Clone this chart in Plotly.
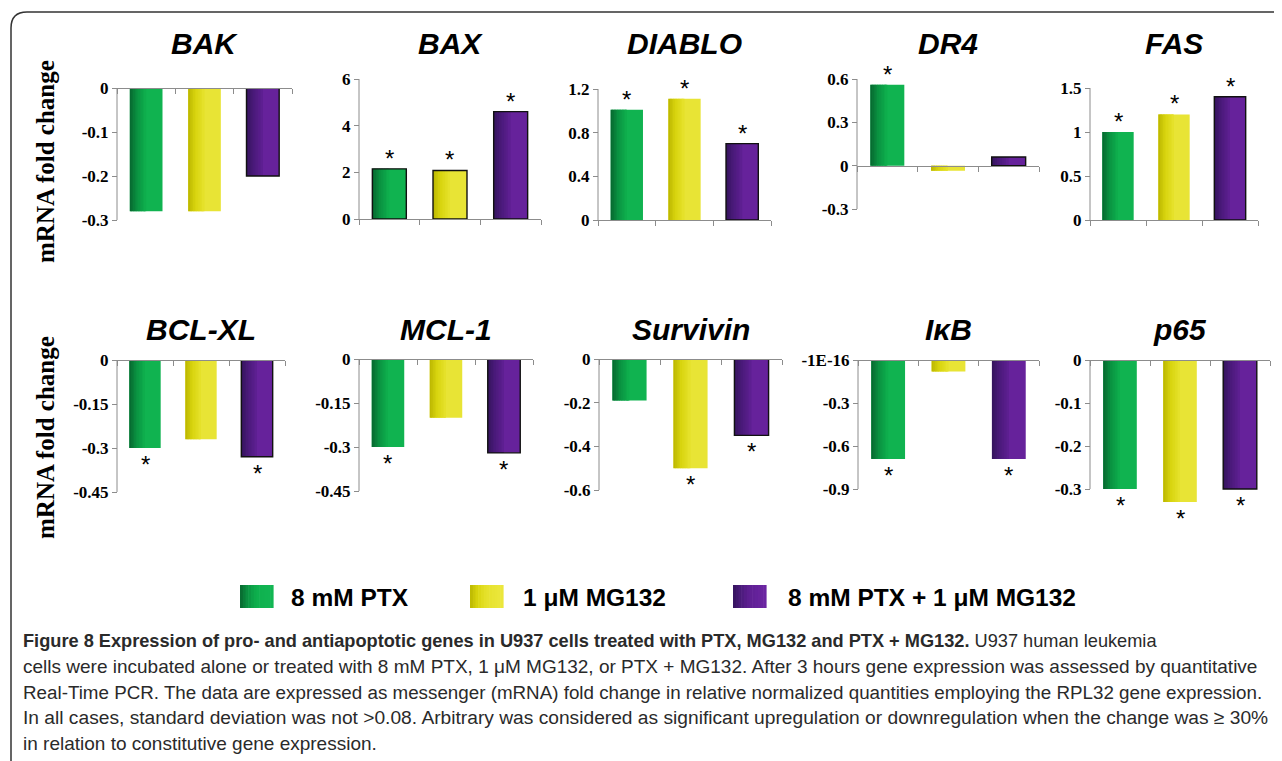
import plotly.graph_objects as go

# ---------------- data ----------------
genes = ["BAK", "BAX", "DIABLO", "DR4", "FAS",
         "BCL-XL", "MCL-1", "Survivin", "IκB", "p65"]
treatments = ["8 mM PTX", "1 μM MG132", "8 mM PTX + 1 μM MG132"]

ptx = [-0.28, 2.15, 1.01, 0.56, 1.00, -0.30, -0.30, -0.19, -0.69, -0.30]
mg132 = [-0.28, 2.08, 1.11, -0.035, 1.20, -0.27, -0.20, -0.50, -0.08, -0.33]
combo = [-0.20, 4.60, 0.70, 0.06, 1.40, -0.33, -0.32, -0.35, -0.69, -0.30]

sig_ptx = [0, 1, 1, 1, 1, 1, 1, 0, 1, 1]
sig_mg132 = [0, 1, 1, 0, 1, 0, 0, 1, 0, 1]
sig_combo = [0, 1, 1, 0, 1, 1, 1, 1, 1, 1]

y_ticks = [
    [0, -0.1, -0.2, -0.3],
    [0, 2, 4, 6],
    [0, 0.4, 0.8, 1.2],
    [-0.3, 0, 0.3, 0.6],
    [0, 0.5, 1, 1.5],
    [0, -0.15, -0.3, -0.45],
    [0, -0.15, -0.3, -0.45],
    [0, -0.2, -0.4, -0.6],
    [0, -0.3, -0.6, -0.9],
    [0, -0.1, -0.2, -0.3],
]
y_ticktext_ikb = ["-1E-16", "-0.3", "-0.6", "-0.9"]

y_title = "mRNA fold change"
caption_lines = [
    "<b>Figure 8 Expression of pro- and antiapoptotic genes in U937 cells treated with PTX, MG132 and PTX + MG132.</b> U937 human leukemia",
    "cells were incubated alone or treated with 8 mM PTX, 1 μM MG132, or PTX + MG132. After 3 hours gene expression was assessed by quantitative",
    "Real-Time PCR. The data are expressed as messenger (mRNA) fold change in relative normalized quantities employing the RPL32 gene expression.",
    "In all cases, standard deviation was not &gt;0.08. Arbitrary was considered as significant upregulation or downregulation when the change was ≥ 30%",
    "in relation to constitutive gene expression.",
]

# ---------------- style / layout ----------------
PAGE_W, PAGE_H = 1282, 761
OFF = 8                      # default page body margin
W, H = PAGE_W - OFF, PAGE_H - OFF
# plot boxes in page pixels: x0, x1, y_top (max tick), y_bottom (min tick)
panel_px = [
    (117, 292, 88, 220), (359, 541, 79, 219), (598, 771, 89, 220),
    (857, 1039, 79, 209), (1090, 1258, 88, 220),
    (117, 285, 360, 492), (359, 533, 359, 491), (599, 782, 359, 490),
    (858, 1039, 360, 489), (1090, 1270, 360, 489),
]
title_y = [44] * 5 + [329] * 5
outline = [
    [0, 0, 1], [1, 1, 1], [0, 0, 1], [0, 0, 1], [0, 0, 1],
    [0, 0, 1], [0, 0, 1], [0, 0, 1], [0, 0, 0], [0, 0, 1],
]
grad_stops = [
    [(0.0, "#07662f"), (0.22, "#0a9141"), (0.5, "#0eb04d"), (1.0, "#12b654")],
    [(0.0, "#bbb600"), (0.22, "#d8d40e"), (0.5, "#e6e22c"), (1.0, "#ebe73e")],
    [(0.0, "#34145c"), (0.22, "#4a1a7a"), (0.5, "#5f2093"), (1.0, "#6c25a3")],
]
AXIS_GREY = "#8c8c8c"


def hex2rgb(h):
    h = h.lstrip("#")
    return tuple(int(h[i:i + 2], 16) for i in (0, 2, 4))


def grad(s, t):
    stops = grad_stops[s]
    for (t0, c0), (t1, c1) in zip(stops[:-1], stops[1:]):
        if t0 <= t <= t1:
            a = (t - t0) / (t1 - t0) if t1 > t0 else 0
            r0, r1 = hex2rgb(c0), hex2rgb(c1)
            r = [round(r0[k] + (r1[k] - r0[k]) * a) for k in range(3)]
            return "rgb(%d,%d,%d)" % tuple(r)
    return stops[-1][1]


def fx(px):
    return (px - OFF) / W


def fy(py):
    return 1 - (py - OFF) / H


fig = go.Figure()
layout = dict(
    template="none",
    width=W, height=H, margin=dict(l=0, r=0, t=0, b=0, pad=0, autoexpand=False),
    paper_bgcolor="white", plot_bgcolor="white",
    barmode="overlay", showlegend=False,
)
shapes = []
annotations = []

K = 10
bw = 0.56
xs = [0, 1, 2]

for i, g in enumerate(genes):
    suf = "" if i == 0 else str(i + 1)
    xa, ya = "x" + suf, "y" + suf
    vals = [ptx[i], mg132[i], combo[i]]
    sigs = [sig_ptx[i], sig_mg132[i], sig_combo[i]]
    ticks = y_ticks[i]
    tmin, tmax = min(ticks), max(ticks)
    rlo = min(tmin, min(vals) * 1.02)
    x0, x1, ytop, ybot = panel_px[i]
    scale = (ybot - ytop) / (tmax - tmin)
    ybot_dom = ytop + (tmax - rlo) * scale
    dom_y = [fy(ybot_dom), fy(ytop)]
    zero_pos = dom_y[0] + (0 - rlo) / (tmax - rlo) * (dom_y[1] - dom_y[0])

    # base bars
    fig.add_trace(go.Bar(
        x=xs, y=vals, width=bw, xaxis=xa, yaxis=ya,
        marker=dict(color=[grad(s, 0.75) for s in range(3)], line=dict(width=0)),
        hoverinfo="skip", showlegend=False))
    # gradient slices (left half)
    step = bw * 0.5 / K
    for k in range(K):
        t = (k + 0.5) / K * 0.5
        fig.add_trace(go.Bar(
            x=xs, y=vals, width=step * 1.35 if k < K - 1 else step,
            offset=-bw / 2 + k * step, xaxis=xa, yaxis=ya,
            marker=dict(color=[grad(s, t) for s in range(3)], line=dict(width=0)),
            hoverinfo="skip", showlegend=False))
    # outlines
    fig.add_trace(go.Bar(
        x=xs, y=vals, width=bw, xaxis=xa, yaxis=ya,
        marker=dict(color="rgba(0,0,0,0)",
                    line=dict(color=["#111111" if o else "rgba(0,0,0,0)" for o in outline[i]],
                              width=1.4)),
        hoverinfo="skip", showlegend=False))
    # significance asterisks (anchored to the bar ends through the axes)
    for x, v, s in zip(xs, vals, sigs):
        if s:
            annotations.append(dict(
                text="*", xref=xa, yref=ya, x=x, y=v, showarrow=False,
                xanchor="center", yanchor="bottom" if v > 0 else "top",
                yshift=-5 if v > 0 else -1,
                font=dict(family="Liberation Sans, Arial", size=24, color="black")))

    ticktext = y_ticktext_ikb if g == "IκB" else [f"{v:g}" for v in ticks]
    layout["xaxis" + suf] = dict(
        domain=[fx(x0), fx(x1)], range=[-0.5, 2.5], anchor="free", position=zero_pos,
        automargin=False,
        showline=True, linecolor=AXIS_GREY, linewidth=1,
        ticks="outside", ticklen=5, tickcolor=AXIS_GREY, tickwidth=1,
        tickmode="array", tickvals=[-0.5, 0.5, 1.5, 2.5], showticklabels=False,
        showgrid=False, zeroline=False, fixedrange=True)
    layout["yaxis" + suf] = dict(
        domain=dom_y, range=[rlo, tmax], anchor="free", position=fx(x0),
        automargin=False,
        showline=False, ticks="outside", ticklen=5, tickcolor=AXIS_GREY, tickwidth=1,
        tickmode="array", tickvals=ticks, ticktext=ticktext,
        tickfont=dict(family="Liberation Serif, Times New Roman", size=17,
                      color="black", weight="bold"),
        showgrid=False, zeroline=False, fixedrange=True)
    shapes.append(dict(type="line", xref=xa + " domain", yref=ya,
                       x0=0, x1=0, y0=tmin, y1=tmax,
                       line=dict(color=AXIS_GREY, width=1)))
    annotations.append(dict(
        text="<b><i>%s</i></b>" % g, xref="paper", yref="paper",
        x=fx((x0 + x1) / 2), y=fy(title_y[i]), xanchor="center", yanchor="middle",
        showarrow=False, font=dict(family="Liberation Sans, Arial", size=30, color="black")))

# y-axis titles
for yc in (162, 438):
    annotations.append(dict(
        text="<b>%s</b>" % y_title, xref="paper", yref="paper",
        x=fx(45), y=fy(yc), xanchor="center", yanchor="middle", textangle=-90,
        showarrow=False, font=dict(family="Liberation Serif, Times New Roman", size=25, color="black")))

# legend
leg_sq = [(240, 273), (470, 503), (733, 766)]
leg_tx = [289, 521, 786]
for j, name in enumerate(treatments):
    a, b = leg_sq[j]
    n = 12
    for k in range(n):
        t = (k + 0.5) / n
        shapes.append(dict(type="rect", xref="paper", yref="paper",
                           x0=fx(a + (b - a) * k / n), x1=fx(a + (b - a) * (k + 1) / n + 0.6),
                           y0=fy(608), y1=fy(585), fillcolor=grad(j, t), line=dict(width=0)))
    annotations.append(dict(
        text="<b>%s</b>" % name, xref="paper", yref="paper",
        x=fx(leg_tx[j]), y=fy(597), xanchor="left", yanchor="middle", showarrow=False,
        font=dict(family="Liberation Sans, Arial", size=24.5, color="black")))

# caption
cap_y = [641, 666, 692, 717, 743]
cap_size = [18.2, 19, 18.8, 19.2, 19]
for line, yc, sz in zip(caption_lines, cap_y, cap_size):
    annotations.append(dict(
        text=line, xref="paper", yref="paper", x=fx(21), y=fy(yc),
        xanchor="left", yanchor="middle", showarrow=False, align="left",
        font=dict(family="Liberation Sans, Arial", size=sz, color="#2a2a2a")))

# frame with rounded top-left corner
shapes.append(dict(
    type="path", xref="paper", yref="paper",
    path="M %f,%f L %f,%f Q %f,%f %f,%f L %f,%f" % (
        fx(1300), fy(12), fx(27), fy(12), fx(11), fy(12), fx(11), fy(28), fx(11), fy(790)),
    line=dict(color="#333333", width=1.5)))

layout["shapes"] = shapes
layout["annotations"] = annotations
fig.update_layout(**layout)
fig.write_html("out.html")
